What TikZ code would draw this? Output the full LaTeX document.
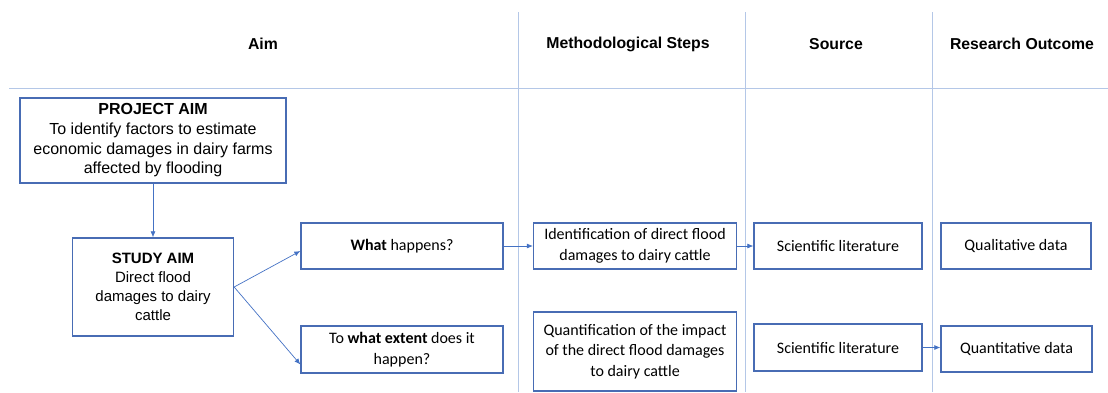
\documentclass[tikz,border=0pt]{standalone}
\usepackage{fontspec}
\setmainfont{Liberation Sans}
\newfontfamily\calibri{Carlito}
\usepackage{tikz}
\usetikzlibrary{arrows.meta}
\definecolor{boxblue}{RGB}{72,108,180}
\definecolor{gridblue}{RGB}{180,199,231}
\definecolor{arrowblue}{RGB}{68,114,196}

\begin{document}
\begin{tikzpicture}
    [
    x=1pt, y=-1pt
    , aimbox/.style = {draw=boxblue,line width=1.3pt,align=center,inner sep=0pt,
        font=\fontsize{16}{19.7}\selectfont}
    , stepbox/.style = {draw=boxblue,line width=1.3pt,align=center,inner sep=0pt,
        minimum height=46pt,font=\calibri\fontsize{16}{20.5}\selectfont}
    , head/.style = {font=\bfseries\fontsize{15.8}{18}\selectfont}
    , grid/.style = {gridblue,line width=1pt}
    , link/.style = {arrowblue,line width=0.7pt,-{Latex[length=6pt,width=5pt]}}
    ]
\useasboundingbox (0,0) rectangle (1108,392);

\draw[grid] (9,88) -- (1108,88);
\draw[grid] (518,12) -- (518,392);
\draw[grid] (745,12) -- (745,392);
\draw[grid] (932,12) -- (932,392);

\node[head] (haim) at (263,44) {Aim};
\node[head] (hsteps) at (628,44) {Methodological Steps};
\node[head] (hsource) at (836,44) {Source};
\node[head] (houtcome) at (1022,44) {Research Outcome};

\node[aimbox,minimum width=266pt,minimum height=85pt] (project) at (153,140.5)
    {\textbf{PROJECT AIM}\\To identify factors to estimate\\economic damages in dairy farms\\affected by flooding};
\node[aimbox,minimum width=161pt,minimum height=98pt,font=\fontsize{15}{19}\selectfont] (study) at (153,287)
    {\textbf{STUDY AIM}\\Direct flood\\damages to dairy\\cattle};

\node[stepbox,minimum width=202pt] (what) at (402,246) {\textbf{What} happens?};
\node[stepbox,minimum width=202pt,minimum height=47pt] (extent) at (402,349.5)
    {To \textbf{what extent} does it\\happen?};

\node[stepbox,minimum width=203pt] (ident) at (635,246)
    {Identification of direct flood\\damages to dairy cattle};
\node[stepbox,minimum width=203pt,minimum height=79pt] (quantif) at (635,351.5)
    {Quantification of the impact\\of the direct flood damages\\to dairy cattle};

\node[stepbox,minimum width=168pt] (lit1) at (838,246) {Scientific literature};
\node[stepbox,minimum width=168pt,minimum height=47pt] (lit2) at (838,347.5) {Scientific literature};

\node[stepbox,minimum width=150pt] (qual) at (1016,246) {Qualitative data};
\node[stepbox,minimum width=151pt] (quant) at (1016.5,349) {Quantitative data};

\draw[link] (project) -- (study);
\draw[link] (study.east) -- ([yshift=-5pt]what.west);
\draw[link] (study.east) -- ([yshift=-15pt]extent.west);
\draw[link] (what) -- (ident);
\draw[link] (ident) -- (lit1);
\draw[link] (lit2.east) -- (lit2.east -| quant.west);
\end{tikzpicture}
\end{document}
